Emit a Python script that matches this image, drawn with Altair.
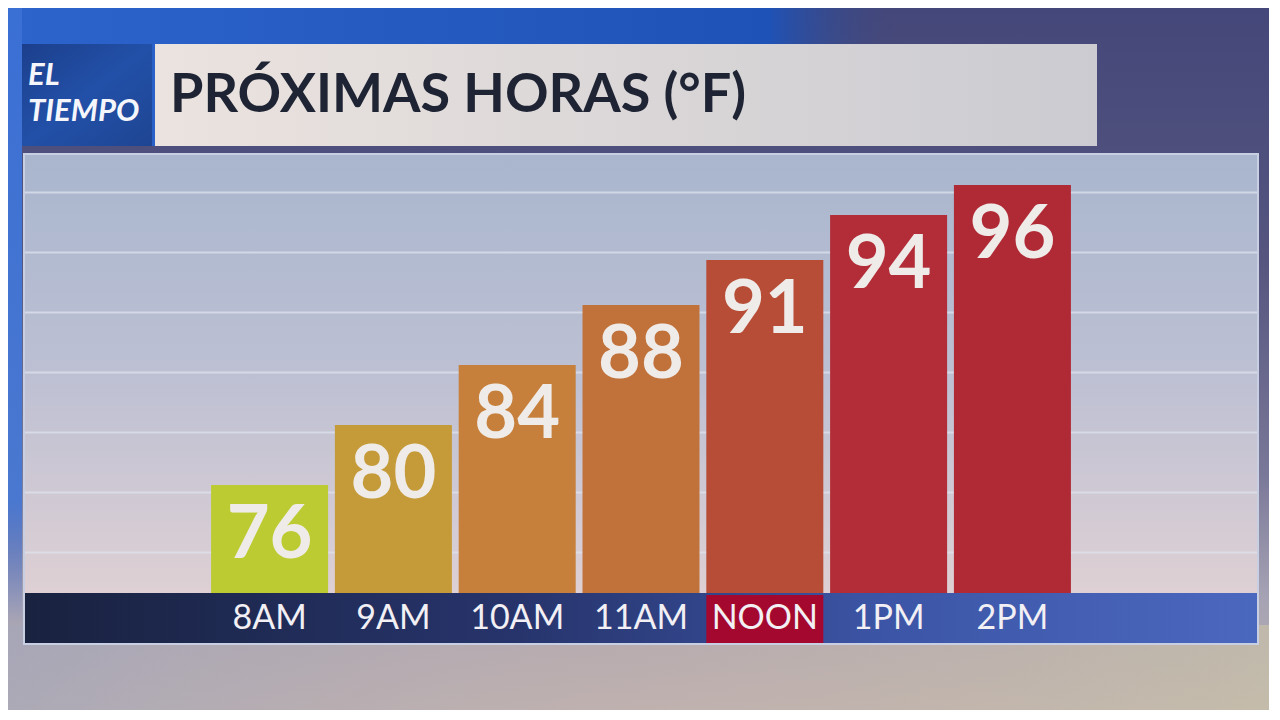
import altair as alt
import pandas as pd

# ---- data ----
hours = ["8AM", "9AM", "10AM", "11AM", "NOON", "1PM", "2PM"]
temps = [76, 80, 84, 88, 91, 94, 96]
bar_colors = ["#bccb31", "#c59b3a", "#c6803b", "#c1723a", "#b74d36", "#b22d37", "#b02a36"]
grid_vals = [71.5, 75.5, 79.5, 83.5, 87.5, 91.5, 95.5]
highlight = ["NOON"]
pad_slots = ["padL", "padR"]   # empty slots that leave room left and right of the bars
title_text = "PRÓXIMAS HORAS (°F)"
logo_lines = ["EL", "TIEMPO"]
Y_BASE = 68.8
Y_TOP = 98.0

W, H = 1232, 438

df = pd.DataFrame({"hour": hours, "temp": temps})
one = pd.DataFrame({"a": [0]})

x_domain = [pad_slots[0]] + hours + [pad_slots[1]]
yscale = alt.Scale(domain=[Y_BASE, Y_TOP], zero=False, nice=False)
xscale = alt.Scale(domain=x_domain, paddingInner=0.055, paddingOuter=0.503)
xenc = alt.X("hour:N", sort=x_domain, scale=xscale,
             axis=alt.Axis(title=None, labelAngle=0, ticks=False, domain=False,
                           labelFont="Lato", labelFontSize=34, labelFontWeight="normal",
                           labelColor="#f2f0f4", labelPadding=25, labelBaseline="middle",
                           labelExpr="indexof(['padL','padR'], datum.value) >= 0 ? '' : datum.value",
                           zindex=1))


def grad(stops, x1=0, y1=0, x2=0, y2=1):
    return alt.LinearGradient(
        gradient="linear",
        stops=[alt.GradientStop(color=c, offset=o) for o, c in stops],
        x1=x1, y1=y1, x2=x2, y2=y2)


def box(x0, x1, y0, y1, fill, **kw):
    return alt.Chart(one).mark_rect(fill=fill, **kw).encode(
        x=alt.value(x0), x2=alt.value(x1), y=alt.value(y0), y2=alt.value(y1))


# page background
bg = box(-17, 1252, -147, 570,
         grad([(0, "#444779"), (0.35, "#55557f"), (0.65, "#7a7898"),
               (0.82, "#a5a2b4"), (1, "#bfb4b0")]))
bg_bottom = box(-17, 1252, 470, 570,
                grad([(0, "rgba(165,166,185,0.7)"), (0.5, "rgba(196,176,172,0.45)"),
                      (1, "rgba(200,192,168,0.7)")], x2=1, y2=0))
bg_blue = box(-17, 1252, -147, -9,
              grad([(0, "#2c64cc"), (0.6, "#1f52b6"), (0.7, "rgba(60,70,130,0)"),
                    (1, "rgba(60,70,130,0)")], x2=1, y2=0))
bg_left = box(-17, -3, -147, 470,
              grad([(0, "#3a6fd4"), (0.8, "#4a78d0"), (1, "rgba(80,110,200,0)")]))

# header boxes
logo_box = box(-3, 127, -111, -9,
               grad([(0, "#1c3f8c"), (0.5, "#2250a8"), (1, "#1e4592")], x2=1, y2=1))
title_box = box(130, 1072, -111, -9,
                grad([(0, "#ebe3df"), (1, "#cbcbd1")], x2=1, y2=0))
title = alt.Chart(one).mark_text(
    text=title_text, font="Lato", fontWeight="bold", fontSize=54,
    color="#1e2433", align="left", baseline="middle").encode(
    x=alt.value(145), y=alt.value(-59))
logo = alt.Chart(one).mark_text(
    text=logo_lines, font="Lato", fontWeight="bold", fontStyle="italic",
    fontSize=31, lineHeight=36, color="#f4f6fb", align="left",
    baseline="alphabetic").encode(
    x=alt.value(3), y=alt.value(-70))

# panel
frame = box(-2, W + 2, -2, H + 52, "#c9cfe2")
panel = box(0, W, 0, H,
            grad([(0, "#a9b6ce"), (0.5, "#bdc0d3"), (1, "#ded0d4")]))
strip = box(0, W, H, H + 50,
            grad([(0, "#19223f"), (0.4, "#27346c"), (0.7, "#3c55a6"), (1, "#4b68bf")],
                 x2=1, y2=0))

grid = alt.Chart(pd.DataFrame({"g": grid_vals})).mark_rule(
    color="#dde2ee", strokeWidth=2, opacity=0.75).encode(
    y=alt.Y("g:Q", scale=yscale, axis=None), x=alt.value(0), x2=alt.value(W))

hl = alt.Chart(pd.DataFrame({"hour": highlight})).mark_bar(color="#a5082f").encode(
    x=xenc, y=alt.value(H + 2), y2=alt.value(H + 50))

bars = alt.Chart(df).mark_bar().encode(
    x=xenc,
    y=alt.Y("temp:Q", scale=yscale, axis=None),
    y2=alt.datum(Y_BASE),
    color=alt.Color("hour:N", scale=alt.Scale(domain=hours, range=bar_colors), legend=None),
)

labels = alt.Chart(df).mark_text(
    font="Lato", fontWeight="bold", fontSize=74, color="#efebe9",
    baseline="alphabetic", align="center", dy=73).encode(
    x=xenc, y=alt.Y("temp:Q", scale=yscale, axis=None), text="temp:Q")

chart = alt.layer(
    bg, bg_bottom, bg_blue, bg_left, logo_box, title_box, title, logo,
    frame, panel, strip, grid, hl, bars, labels
).properties(
    width=W, height=H,
    autosize=alt.AutoSizeParams(type="none"),
    padding={"left": 17, "top": 147, "right": 12, "bottom": 117},
    background="#8a86a0",
).configure_view(stroke=None)

chart.save("out.html", embed_options={"renderer": "svg", "actions": False})
